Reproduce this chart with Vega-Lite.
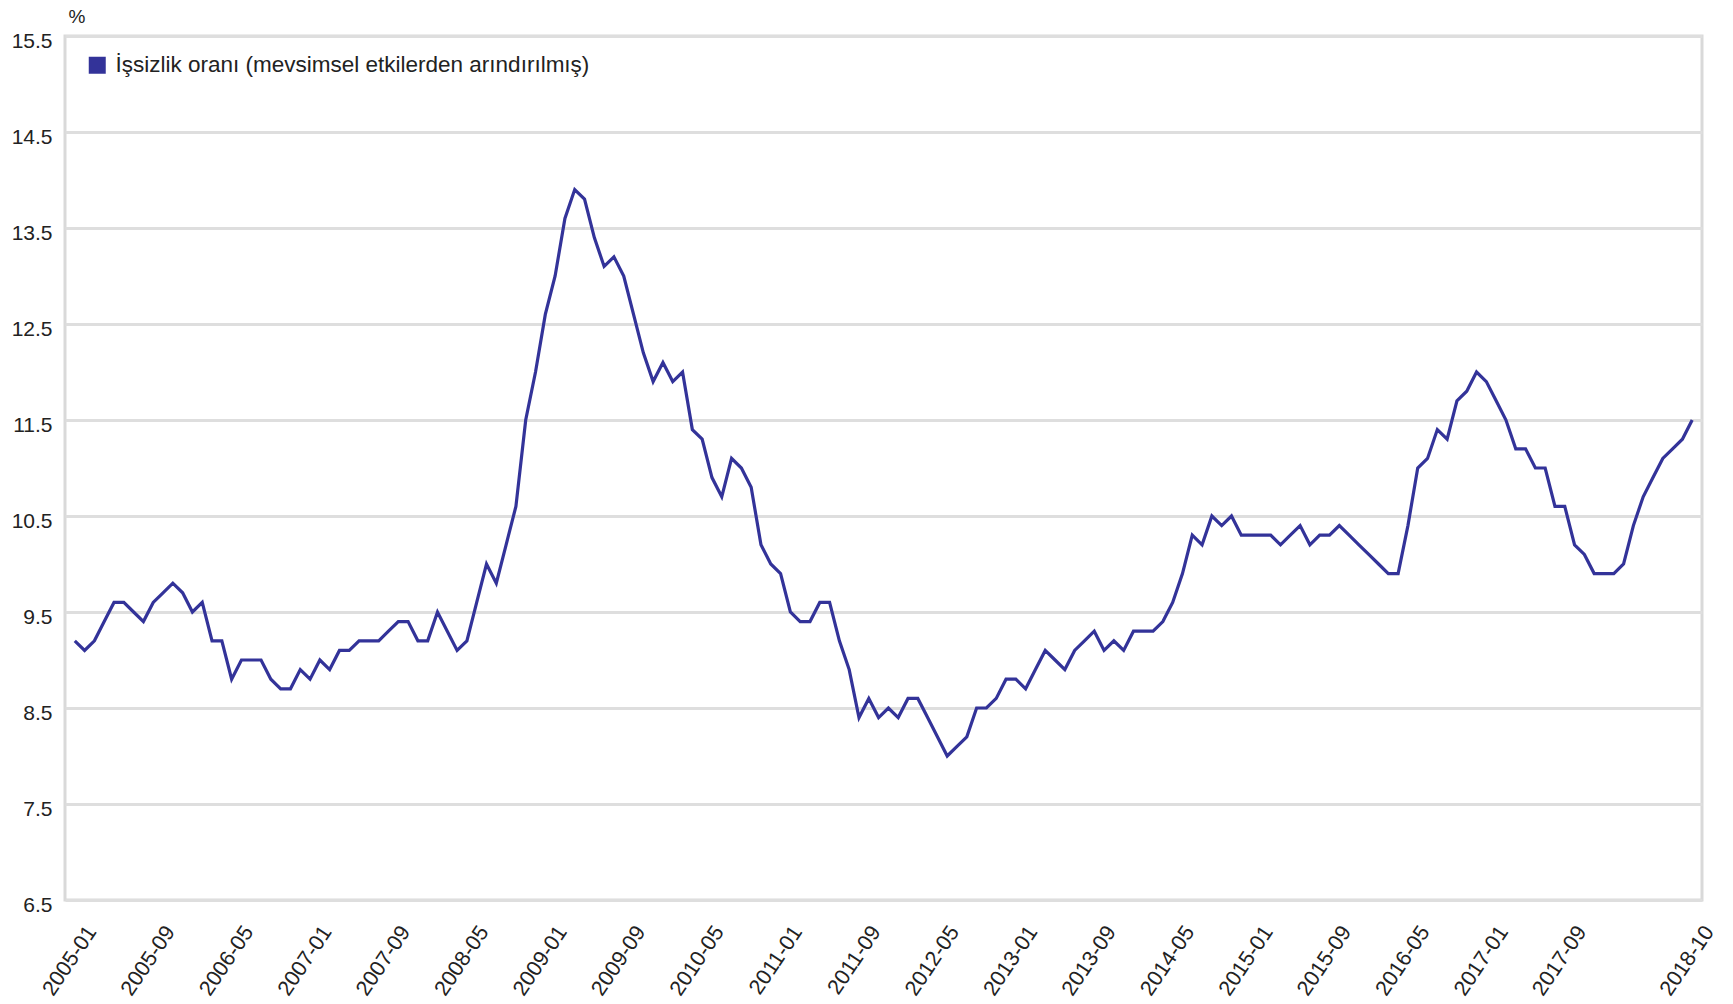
{
  "$schema": "https://vega.github.io/schema/vega-lite/v6.json",
  "width": 1637,
  "height": 864,
  "autosize": {"type": "none"},
  "padding": {"left": 65, "top": 36, "right": 31, "bottom": 104},
  "background": "white",
  "config": {
    "font": "Liberation Sans",
    "view": {"stroke": "#d9d9d9", "strokeWidth": 3}
  },
  "data": {"values": [
    {"m":"2005-01","v":9.2},{"m":"2005-02","v":9.1},{"m":"2005-03","v":9.2},{"m":"2005-04","v":9.4},{"m":"2005-05","v":9.6},{"m":"2005-06","v":9.6},{"m":"2005-07","v":9.5},{"m":"2005-08","v":9.4},{"m":"2005-09","v":9.6},{"m":"2005-10","v":9.7},{"m":"2005-11","v":9.8},{"m":"2005-12","v":9.7},
    {"m":"2006-01","v":9.5},{"m":"2006-02","v":9.6},{"m":"2006-03","v":9.2},{"m":"2006-04","v":9.2},{"m":"2006-05","v":8.8},{"m":"2006-06","v":9.0},{"m":"2006-07","v":9.0},{"m":"2006-08","v":9.0},{"m":"2006-09","v":8.8},{"m":"2006-10","v":8.7},{"m":"2006-11","v":8.7},{"m":"2006-12","v":8.9},
    {"m":"2007-01","v":8.8},{"m":"2007-02","v":9.0},{"m":"2007-03","v":8.9},{"m":"2007-04","v":9.1},{"m":"2007-05","v":9.1},{"m":"2007-06","v":9.2},{"m":"2007-07","v":9.2},{"m":"2007-08","v":9.2},{"m":"2007-09","v":9.3},{"m":"2007-10","v":9.4},{"m":"2007-11","v":9.4},{"m":"2007-12","v":9.2},
    {"m":"2008-01","v":9.2},{"m":"2008-02","v":9.5},{"m":"2008-03","v":9.3},{"m":"2008-04","v":9.1},{"m":"2008-05","v":9.2},{"m":"2008-06","v":9.6},{"m":"2008-07","v":10.0},{"m":"2008-08","v":9.8},{"m":"2008-09","v":10.2},{"m":"2008-10","v":10.6},{"m":"2008-11","v":11.5},{"m":"2008-12","v":12.0},
    {"m":"2009-01","v":12.6},{"m":"2009-02","v":13.0},{"m":"2009-03","v":13.6},{"m":"2009-04","v":13.9},{"m":"2009-05","v":13.8},{"m":"2009-06","v":13.4},{"m":"2009-07","v":13.1},{"m":"2009-08","v":13.2},{"m":"2009-09","v":13.0},{"m":"2009-10","v":12.6},{"m":"2009-11","v":12.2},{"m":"2009-12","v":11.9},
    {"m":"2010-01","v":12.1},{"m":"2010-02","v":11.9},{"m":"2010-03","v":12.0},{"m":"2010-04","v":11.4},{"m":"2010-05","v":11.3},{"m":"2010-06","v":10.9},{"m":"2010-07","v":10.7},{"m":"2010-08","v":11.1},{"m":"2010-09","v":11.0},{"m":"2010-10","v":10.8},{"m":"2010-11","v":10.2},{"m":"2010-12","v":10.0},
    {"m":"2011-01","v":9.9},{"m":"2011-02","v":9.5},{"m":"2011-03","v":9.4},{"m":"2011-04","v":9.4},{"m":"2011-05","v":9.6},{"m":"2011-06","v":9.6},{"m":"2011-07","v":9.2},{"m":"2011-08","v":8.9},{"m":"2011-09","v":8.4},{"m":"2011-10","v":8.6},{"m":"2011-11","v":8.4},{"m":"2011-12","v":8.5},
    {"m":"2012-01","v":8.4},{"m":"2012-02","v":8.6},{"m":"2012-03","v":8.6},{"m":"2012-04","v":8.4},{"m":"2012-05","v":8.2},{"m":"2012-06","v":8.0},{"m":"2012-07","v":8.1},{"m":"2012-08","v":8.2},{"m":"2012-09","v":8.5},{"m":"2012-10","v":8.5},{"m":"2012-11","v":8.6},{"m":"2012-12","v":8.8},
    {"m":"2013-01","v":8.8},{"m":"2013-02","v":8.7},{"m":"2013-03","v":8.9},{"m":"2013-04","v":9.1},{"m":"2013-05","v":9.0},{"m":"2013-06","v":8.9},{"m":"2013-07","v":9.1},{"m":"2013-08","v":9.2},{"m":"2013-09","v":9.3},{"m":"2013-10","v":9.1},{"m":"2013-11","v":9.2},{"m":"2013-12","v":9.1},
    {"m":"2014-01","v":9.3},{"m":"2014-02","v":9.3},{"m":"2014-03","v":9.3},{"m":"2014-04","v":9.4},{"m":"2014-05","v":9.6},{"m":"2014-06","v":9.9},{"m":"2014-07","v":10.3},{"m":"2014-08","v":10.2},{"m":"2014-09","v":10.5},{"m":"2014-10","v":10.4},{"m":"2014-11","v":10.5},{"m":"2014-12","v":10.3},
    {"m":"2015-01","v":10.3},{"m":"2015-02","v":10.3},{"m":"2015-03","v":10.3},{"m":"2015-04","v":10.2},{"m":"2015-05","v":10.3},{"m":"2015-06","v":10.4},{"m":"2015-07","v":10.2},{"m":"2015-08","v":10.3},{"m":"2015-09","v":10.3},{"m":"2015-10","v":10.4},{"m":"2015-11","v":10.3},{"m":"2015-12","v":10.2},
    {"m":"2016-01","v":10.1},{"m":"2016-02","v":10.0},{"m":"2016-03","v":9.9},{"m":"2016-04","v":9.9},{"m":"2016-05","v":10.4},{"m":"2016-06","v":11.0},{"m":"2016-07","v":11.1},{"m":"2016-08","v":11.4},{"m":"2016-09","v":11.3},{"m":"2016-10","v":11.7},{"m":"2016-11","v":11.8},{"m":"2016-12","v":12.0},
    {"m":"2017-01","v":11.9},{"m":"2017-02","v":11.7},{"m":"2017-03","v":11.5},{"m":"2017-04","v":11.2},{"m":"2017-05","v":11.2},{"m":"2017-06","v":11.0},{"m":"2017-07","v":11.0},{"m":"2017-08","v":10.6},{"m":"2017-09","v":10.6},{"m":"2017-10","v":10.2},{"m":"2017-11","v":10.1},{"m":"2017-12","v":9.9},
    {"m":"2018-01","v":9.9},{"m":"2018-02","v":9.9},{"m":"2018-03","v":10.0},{"m":"2018-04","v":10.4},{"m":"2018-05","v":10.7},{"m":"2018-06","v":10.9},{"m":"2018-07","v":11.1},{"m":"2018-08","v":11.2},{"m":"2018-09","v":11.3},{"m":"2018-10","v":11.5}
  ]},
  "mark": {"type": "line", "strokeWidth": 3.2, "strokeJoin": "miter", "interpolate": "linear"},
  "encoding": {
    "x": {
      "field": "m",
      "type": "ordinal",
      "sort": null,
      "scale": {"type": "point", "padding": 1},
      "axis": {
        "title": null,
        "values": ["2005-01","2005-09","2006-05","2007-01","2007-09","2008-05","2009-01","2009-09","2010-05","2011-01","2011-09","2012-05","2013-01","2013-09","2014-05","2015-01","2015-09","2016-05","2017-01","2017-09","2018-10"],
        "domain": false,
        "ticks": false,
        "grid": false,
        "labelAngle": -56,
        "labelAlign": "right",
        "labelBaseline": "middle",
        "labelFontSize": 21.5,
        "labelColor": "#222222",
        "labelPadding": 28,
        "labelOffset": 17
      }
    },
    "y": {
      "field": "v",
      "type": "quantitative",
      "scale": {"domain": [6.5, 15.5], "nice": false, "zero": false},
      "axis": {
        "values": [6.5, 7.5, 8.5, 9.5, 10.5, 11.5, 12.5, 13.5, 14.5, 15.5],
        "format": ".1f",
        "title": "%",
        "titleAngle": 0,
        "titleAlign": "left",
        "titleBaseline": "alphabetic",
        "titleX": 3,
        "titleY": -14,
        "titleFontSize": 19,
        "titleFontWeight": "normal",
        "titleColor": "#222222",
        "domain": false,
        "ticks": false,
        "grid": true,
        "gridColor": "#dedede",
        "gridWidth": 3,
        "labelFontSize": 21,
        "labelColor": "#222222",
        "labelPadding": 13,
        "labelOffset": 5
      }
    },
    "color": {
      "datum": "İşsizlik oranı (mevsimsel etkilerden arındırılmış)",
      "scale": {"range": ["#333399"]},
      "legend": {
        "title": null,
        "orient": "none",
        "legendX": 21,
        "legendY": 18,
        "padding": 0,
        "symbolType": "square",
        "symbolSize": 289,
        "symbolFillColor": "#333399",
        "symbolStrokeWidth": 0,
        "labelFontSize": 22.5,
        "labelLimit": 0,
        "labelColor": "#222222",
        "labelOffset": 7
      }
    }
  }
}
